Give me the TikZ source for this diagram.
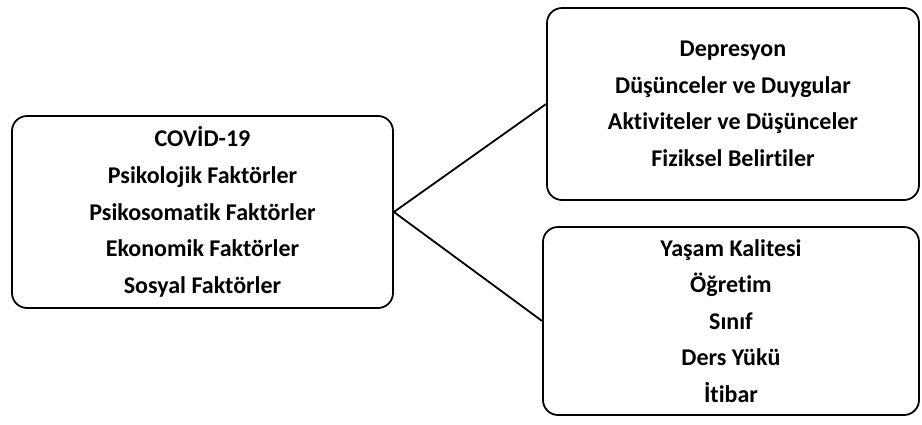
\documentclass[tikz,border=0pt]{standalone}
\usepackage{fontspec}
\setmainfont{Carlito}[Ligatures=NoCommon]
\usetikzlibrary{positioning}

\tikzset{
  kutu/.style={draw,line width=1.8pt,rounded corners=15pt,align=center,
    font=\fontsize{24}{36.6}\selectfont\bfseries,inner sep=0pt},
  bag/.style={line width=1.8pt}
}

\begin{document}
\begin{tikzpicture}[x=1pt,y=-1pt]
  \useasboundingbox (0,0) rectangle (922,424);
  \node[kutu,minimum width=381pt,minimum height=192pt] (covid) at (202.5,212)
    {COVİD-19\\Psikolojik Faktörler\\Psikosomatik Faktörler\\Ekonomik Faktörler\\Sosyal Faktörler};
  \node[kutu,minimum width=372pt,minimum height=192pt] (depresyon) at (733,104)
    {Depresyon\\Düşünceler ve Duygular\\Aktiviteler ve Düşünceler\\Fiziksel Belirtiler};
  \node[kutu,minimum width=376pt,minimum height=188pt] (yasam) at (731,321)
    {Yaşam Kalitesi\\Öğretim\\Sınıf\\Ders Yükü\\İtibar};
  \draw[bag] (covid.east) -- (depresyon.west);
  \draw[bag] (covid.east) -- (yasam.west);
\end{tikzpicture}
\end{document}
